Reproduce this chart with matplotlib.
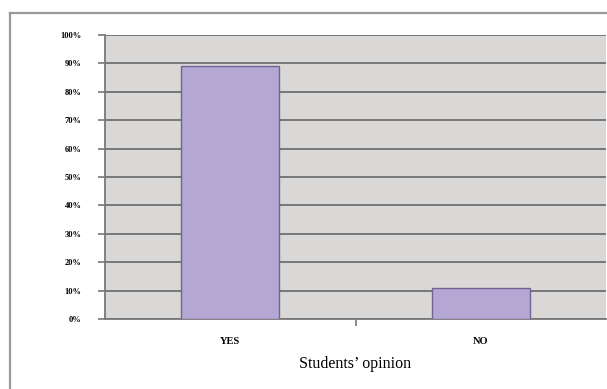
import matplotlib.pyplot as plt
from matplotlib.lines import Line2D
from matplotlib.ticker import FuncFormatter
import numpy as np

categories = ['YES', 'NO']
percent = [89, 11]
yticks = list(range(0, 101, 10))

W, H = 607, 389
fig = plt.figure(figsize=(W / 100, H / 100), dpi=100)
fig.patch.set_facecolor('white')

# outer chart frame (top and left edges visible)
fig.add_artist(Line2D([9.5 / W, 9.5 / W], [0, 1 - 13 / H], color='#999999', lw=1.6))
fig.add_artist(Line2D([9.5 / W, 1], [1 - 13 / H, 1 - 13 / H], color='#999999', lw=1.6))

ax = fig.add_axes([105 / W, (H - 319) / H, (606 - 105) / W, (319 - 35) / H])
ax.set_facecolor('#d9d8d6')

x = np.arange(len(categories))
ax.bar(x, percent, width=0.39, color='#b4a7d4', edgecolor='#6f6396', linewidth=1.0, zorder=3)

ax.set_xlim(-0.5, len(categories) - 0.5)
ax.set_ylim(0, 100)
ax.set_yticks(yticks)
ax.yaxis.set_major_formatter(FuncFormatter(lambda v, p: '%d%%' % v))
ax.yaxis.grid(True, color='#777777', linewidth=1.4, zorder=1)
ax.set_axisbelow(True)

ax.set_xticks(x)
ax.set_xticklabels(categories, fontfamily='Liberation Serif', fontweight='bold', fontsize=7.5)
ax.set_xticks([0.5], minor=True)
ax.tick_params(axis='x', which='major', length=0, pad=13)
ax.tick_params(axis='x', which='minor', length=5, color='#777777', width=1.2)
ax.tick_params(axis='y', length=5, color='#777777', width=1.2, pad=12)
for lbl in ax.get_yticklabels():
    lbl.set_fontfamily('Liberation Serif')
    lbl.set_fontweight('bold')
    lbl.set_fontsize(6)

for side in ['top', 'right']:
    ax.spines[side].set_visible(False)
ax.spines['left'].set_color('#777777')
ax.spines['left'].set_linewidth(1.3)
ax.spines['bottom'].set_color('#777777')
ax.spines['bottom'].set_linewidth(1.3)

ax.set_xlabel("Students\u2019 opinion", fontfamily='Liberation Serif', fontsize=11.5, labelpad=7)

fig.savefig('out.png', dpi=100)
